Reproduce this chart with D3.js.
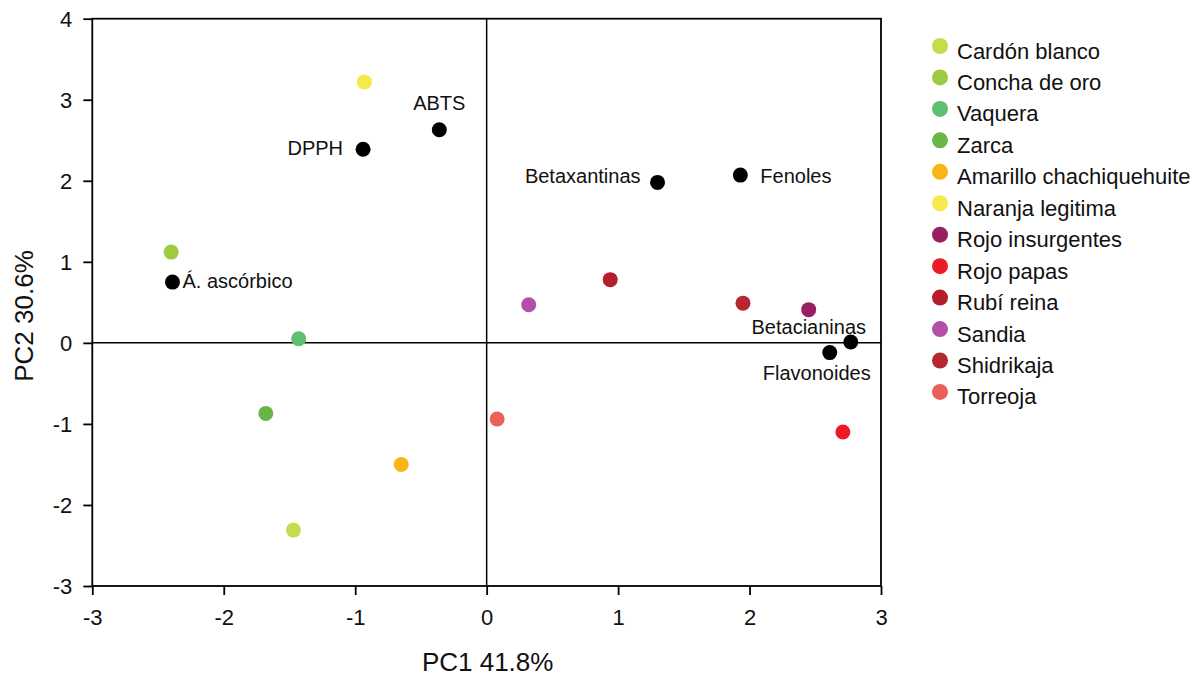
<!DOCTYPE html>
<html>
<head>
<meta charset="utf-8">
<script src="https://cdn.jsdelivr.net/npm/d3@7"></script>
<style>
  body { margin: 0; background: #fff; }
  text { font-family: "Liberation Sans", Arial, sans-serif; }
</style>
</head>
<body>
<svg id="chart" width="1202" height="678"></svg>
<script>
// PCA biplot: cultivar scores (coloured) and variable loadings (black)
const cultivars = ["Cardón blanco", "Concha de oro", "Vaquera", "Zarca", "Amarillo chachiquehuite",
  "Naranja legitima", "Rojo insurgentes", "Rojo papas", "Rubí reina", "Sandia", "Shidrikaja", "Torreoja"];
const cultivarPC1 = [-1.47, -2.40, -1.43, -1.68, -0.65, -0.93, 2.45, 2.71, 0.94, 0.32, 1.95, 0.08];
const cultivarPC2 = [-2.31, 1.12, 0.05, -0.87, -1.50, 3.22, 0.41, -1.10, 0.78, 0.47, 0.49, -0.94];
const cultivarColors = ["#c6dc4c", "#9dca3e", "#5dbf6f", "#6ab547", "#fbb416", "#f6e94a",
  "#9a1f62", "#ec1c27", "#b41f2b", "#b34fa9", "#b52832", "#e8625b"];

const variables = ["ABTS", "DPPH", "Á. ascórbico", "Betaxantinas", "Fenoles", "Betacianinas", "Flavonoides"];
const variablePC1 = [-0.36, -0.94, -2.39, 1.30, 1.93, 2.77, 2.61];
const variablePC2 = [2.63, 2.39, 0.75, 1.98, 2.07, 0.01, -0.12];

const xTicks = [-3, -2, -1, 0, 1, 2, 3];
const yTicks = [-3, -2, -1, 0, 1, 2, 3, 4];
const xTitle = "PC1 41.8%";
const yTitle = "PC2 30.6%";

// where each loading's name sits relative to its point
const labelPlacement = {
  "ABTS":         { dx: 0,   dy: -20, anchor: "middle" },
  "DPPH":         { dx: -20, dy: 6,   anchor: "end" },
  "Á. ascórbico": { dx: 10,  dy: 6,   anchor: "start" },
  "Betaxantinas": { dx: -17, dy: 1,   anchor: "end" },
  "Fenoles":      { dx: 20,  dy: 8,   anchor: "start" },
  "Betacianinas": { dx: -42, dy: -8,  anchor: "middle" },
  "Flavonoides":  { dx: -13, dy: 27,  anchor: "middle" }
};

const svg = d3.select("#chart");
const plot = { left: 92.3, right: 881, top: 18.7, bottom: 586 };

const x = d3.scaleLinear().domain([-3, 3]).range([plot.left, plot.right]);
const y = d3.scaleLinear().domain([-3, 4]).range([plot.bottom, plot.top]);

// tick labels use a plain hyphen for negatives
const tickFmt = d => String(d);

// axes
const xAxis = svg.append("g")
  .attr("transform", `translate(0,${plot.bottom})`)
  .call(d3.axisBottom(x).tickValues(xTicks).tickFormat(tickFmt).tickSize(9).tickSizeOuter(0).tickPadding(14));
const yAxis = svg.append("g")
  .attr("transform", `translate(${plot.left},0)`)
  .call(d3.axisLeft(y).tickValues(yTicks).tickFormat(tickFmt).tickSize(9).tickSizeOuter(0).tickPadding(11));

[xAxis, yAxis].forEach(g => {
  g.attr("font-size", 22).attr("font-family", "'Liberation Sans', Arial, sans-serif");
  g.select(".domain").remove();
  g.selectAll(".tick line").attr("stroke", "#000").attr("stroke-width", 1.8);
  g.selectAll(".tick text").attr("fill", "#111");
});
yAxis.selectAll(".tick text").attr("dy", "0.36em");

// frame
svg.append("rect")
  .attr("x", plot.left).attr("y", plot.top)
  .attr("width", plot.right - plot.left).attr("height", plot.bottom - plot.top)
  .attr("fill", "none").attr("stroke", "#000").attr("stroke-width", 1.8);

// zero lines
svg.append("line")
  .attr("x1", x(0)).attr("x2", x(0)).attr("y1", plot.top).attr("y2", plot.bottom)
  .attr("stroke", "#000").attr("stroke-width", 1.5);
svg.append("line")
  .attr("x1", plot.left).attr("x2", plot.right).attr("y1", y(0)).attr("y2", y(0))
  .attr("stroke", "#000").attr("stroke-width", 1.5);

// axis titles
svg.append("text")
  .attr("x", (plot.left + plot.right) / 2 + 1).attr("y", 671)
  .attr("text-anchor", "middle").style("font-size", "26px").attr("fill", "#111")
  .text(xTitle);
svg.append("text")
  .attr("transform", `translate(33,${316}) rotate(-90)`)
  .attr("text-anchor", "middle").style("font-size", "26px").attr("fill", "#111")
  .text(yTitle);

// cultivar scores
svg.append("g").selectAll("circle")
  .data(cultivars.map((c, i) => ({ name: c, pc1: cultivarPC1[i], pc2: cultivarPC2[i], color: cultivarColors[i] })))
  .join("circle")
  .attr("cx", d => x(d.pc1)).attr("cy", d => y(d.pc2))
  .attr("r", 7.5).attr("fill", d => d.color);

// variable loadings
const loadings = variables.map((v, i) => ({ name: v, pc1: variablePC1[i], pc2: variablePC2[i] }));
svg.append("g").selectAll("circle")
  .data(loadings)
  .join("circle")
  .attr("cx", d => x(d.pc1)).attr("cy", d => y(d.pc2))
  .attr("r", 7.5).attr("fill", "#000");
svg.append("g").selectAll("text")
  .data(loadings)
  .join("text")
  .attr("x", d => x(d.pc1) + labelPlacement[d.name].dx)
  .attr("y", d => y(d.pc2) + labelPlacement[d.name].dy)
  .attr("text-anchor", d => labelPlacement[d.name].anchor)
  .style("font-size", "20px").attr("fill", "#111")
  .text(d => d.name);

// legend
const legend = svg.append("g").attr("transform", "translate(940,46)");
const rows = legend.selectAll("g")
  .data(cultivars.map((c, i) => ({ name: c, color: cultivarColors[i] })))
  .join("g")
  .attr("transform", (d, i) => `translate(0,${i * 31.45})`);
rows.append("circle").attr("r", 8).attr("fill", d => d.color);
rows.append("text")
  .attr("x", 17).attr("y", 12.5)
  .style("font-size", "22px").attr("fill", "#111")
  .text(d => d.name);
</script>
</body>
</html>
